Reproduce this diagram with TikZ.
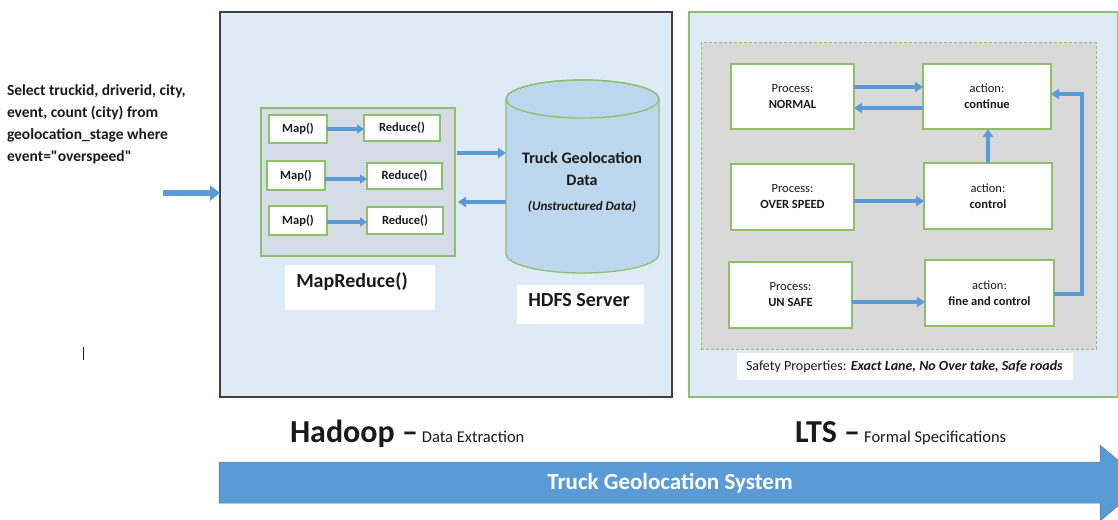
\documentclass[tikz,border=0pt]{standalone}
\usepackage{fontspec}
\setmainfont{Carlito}[Ligatures=TeXOff]
\usetikzlibrary{arrows.meta}
\definecolor{arrblue}{HTML}{5B9BD5}
\definecolor{boxblue}{HTML}{DEEBF7}
\definecolor{cylblue}{HTML}{BDD7EE}
\definecolor{mrgray}{HTML}{D6DCE5}
\definecolor{ltsgray}{HTML}{D9D9D9}
\definecolor{grn}{HTML}{8CC16A}
\definecolor{darkbrd}{HTML}{404040}
\definecolor{txt}{HTML}{1A1A1A}
\begin{document}
\begin{tikzpicture}[x=1pt,y=-1pt,
  every node/.style={inner sep=0pt,outer sep=0pt,text=txt},
  wbox/.style={draw=grn,line width=1.3pt,fill=white,rectangle},
  lbox/.style={fill=white,rectangle},
  mfont/.style={font={\fontsize{12.5}{16}\selectfont\bfseries}},
  flow/.style={draw=arrblue,line width=3.4pt,-{Triangle[length=8pt,width=10pt]}},
  thinflow/.style={draw=arrblue,line width=3.2pt,-{Triangle[length=7pt,width=9pt]}}
]
\useasboundingbox (0,0) rectangle (1118,519);
% big panels
\node[draw=darkbrd,line width=1.2pt,fill=boxblue,minimum width=452pt,minimum height=385pt] (hd) at (446,204.5) {};
\node[draw=grn,line width=1.2pt,fill=boxblue,minimum width=429pt,minimum height=385pt] (lts) at (903.5,204.5) {};
% input text
\node[anchor=north west,align=left,font={\fontsize{15.5}{22}\selectfont\bfseries}] (q) at (7,85)
  {Select truckid, driverid, city,\\event, count (city) from\\geolocation\_stage where\\event="overspeed"};
\coordinate (qin) at (163,193);
\draw[draw=arrblue,line width=5.5pt,-{Triangle[length=10pt,width=15pt]}] (qin) -- (qin -| hd.west);
\draw[line width=0.8pt,draw=txt] (83,347) -- (83,360);
% MapReduce box
\node[draw=grn,line width=1.3pt,fill=mrgray,minimum width=194pt,minimum height=148pt] (mr) at (358,182) {};
\node[wbox,mfont,minimum width=58pt,minimum height=28pt] (m1) at (298,129) {Map()};
\node[wbox,mfont,minimum width=76pt,minimum height=26pt] (r1) at (402,128) {Reduce()};
\node[wbox,mfont,minimum width=58pt,minimum height=29pt] (m2) at (296,175.5) {Map()};
\node[wbox,mfont,minimum width=75pt,minimum height=26pt] (r2) at (404.5,176) {Reduce()};
\node[wbox,mfont,minimum width=58pt,minimum height=29pt] (m3) at (298,220.5) {Map()};
\node[wbox,mfont,minimum width=76pt,minimum height=27pt] (r3) at (405,220.5) {Reduce()};
\draw[thinflow] (m1.east) -- (m1.east -| r1.west);
\draw[thinflow] ([yshift=-3.5pt]m2.east) -- ([yshift=-3.5pt]m2.east -| r2.west);
\draw[thinflow] ([yshift=-1.5pt]m3.east) -- ([yshift=-1.5pt]m3.east -| r3.west);
\node[lbox,minimum width=150pt,minimum height=45pt] (mrl) at (360,287.5) {};
\node[font={\fontsize{20}{24}\selectfont\bfseries}] (mrt) at (352,282) {MapReduce()};
% cylinder
\node[minimum width=153pt,minimum height=193pt] (db) at (582.5,176.5) {};
\filldraw[draw=grn,line width=1.3pt,fill=cylblue] (506,99) -- (506,254)
  arc[start angle=180,end angle=0,x radius=76.5,y radius=19] -- (659,99)
  arc[start angle=0,end angle=-180,x radius=76.5,y radius=19] -- cycle;
\draw[draw=grn,line width=1.3pt] (582.5,99) ellipse [x radius=76.5,y radius=19];
\node[align=center,font={\fontsize{16}{22}\selectfont\bfseries}] (dbt) at (582,169) {Truck Geolocation\\Data};
\node[font={\fontsize{13}{16}\selectfont\bfseries\itshape}] (dbu) at (582,207) {(Unstructured Data)};
\draw[flow] ([yshift=29pt,xshift=2pt]mr.east) -- ([yshift=29pt]mr.east -| db.west);
\draw[flow] ([yshift=-20pt]mr.east -| db.west) -- ([yshift=-20pt,xshift=3pt]mr.east);
\node[lbox,minimum width=127pt,minimum height=39pt] (hdfs) at (580.5,304.5) {};
\node[font={\fontsize{20}{24}\selectfont\bfseries}] (hdfst) at (579,300) {HDFS Server};
% LTS
\node[draw=grn,dash pattern=on 3pt off 2pt,line width=1pt,fill=ltsgray,minimum width=395pt,minimum height=306pt] (dz) at (898.5,196) {};
\tikzset{pbox/.style={wbox,align=center,font={\fontsize{12.5}{16}\selectfont}}}
\node[pbox,minimum width=123pt,minimum height=65pt] (p1) at (792.5,96.5) {Process:\\\textbf{NORMAL}};
\node[pbox,minimum width=128pt,minimum height=65pt] (a1) at (987,96.5) {action:\\\textbf{continue}};
\node[pbox,minimum width=123pt,minimum height=66pt] (p2) at (792.5,197) {Process:\\\textbf{OVER SPEED}};
\node[pbox,minimum width=128pt,minimum height=66pt] (a2) at (988,196) {action:\\\textbf{control}};
\node[pbox,minimum width=123pt,minimum height=66pt] (p3) at (790.5,295) {Process:\\\textbf{UN SAFE}};
\node[pbox,minimum width=129pt,minimum height=66pt] (a3) at (989.5,293) {action:\\\textbf{fine and control}};
\draw[flow] ([yshift=9.5pt]p1.east) -- ([yshift=9.5pt]p1.east -| a1.west);
\draw[flow] ([yshift=-11.5pt]p1.east -| a1.west) -- ([yshift=-11.5pt]p1.east);
\draw[flow] (a2.north) -- (a2.north |- a1.south);
\draw[flow] ([yshift=-4pt]p2.east) -- ([yshift=-4pt]p2.east -| a2.west);
\draw[flow] ([yshift=-7pt]p3.east) -- ([yshift=-7pt]p3.east -| a3.west);
\draw[flow] ([yshift=-1pt]a3.east) -- ++(28,0) |- ([yshift=2.5pt]a1.east);
\node[lbox,minimum width=336pt,minimum height=27pt] (sp) at (905,366.5) {};
\node[anchor=west,font={\fontsize{14}{16}\selectfont}] (spt) at (746,366.5) {Safety Properties: \textbf{\textit{Exact Lane, No Over take, Safe roads}}};
% bottom titles
\node[anchor=base west] (ht) at (290,442) {{\fontsize{32}{36}\selectfont\bfseries Hadoop –}\hspace{4pt}{\fontsize{16.5}{18}\selectfont Data Extraction}};
\node[anchor=base west] (lt) at (795,442) {{\fontsize{32}{36}\selectfont\bfseries LTS –}\hspace{4pt}{\fontsize{16.5}{18}\selectfont Formal Specifications}};
% big arrow
\filldraw[fill=arrblue,draw=arrblue!80!black,line width=0.5pt] (219,462) -- (1100,462) -- (1100,445) -- (1145,483) -- (1100,521) -- (1100,503) -- (219,503) -- cycle;
\node[text=white,font={\fontsize{23}{26}\selectfont\bfseries}] (tgs) at (670,483) {Truck Geolocation System};
\end{tikzpicture}
\end{document}
